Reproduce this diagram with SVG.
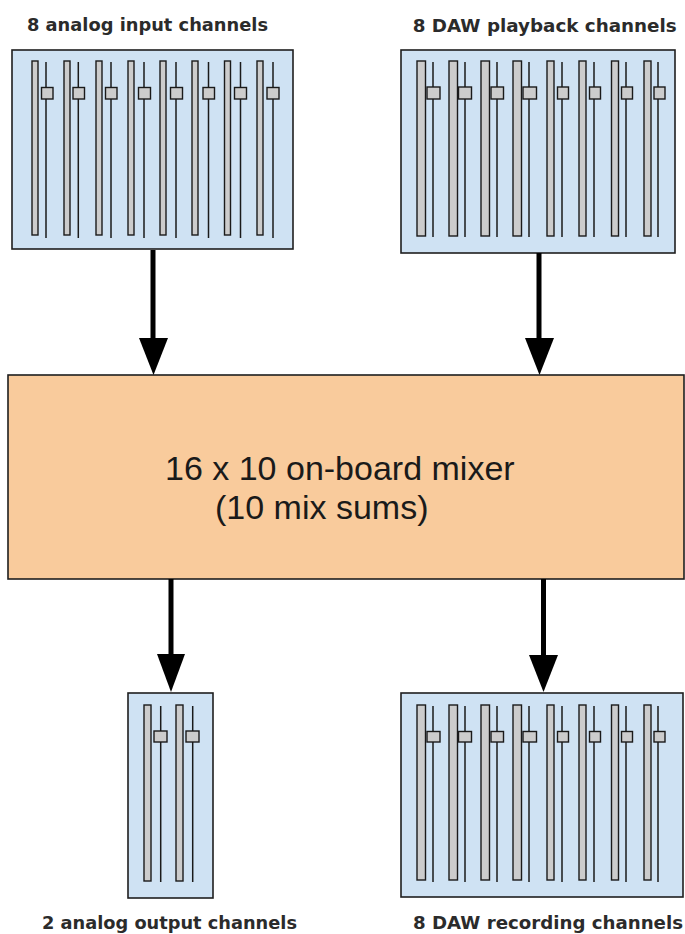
<svg xmlns="http://www.w3.org/2000/svg" width="685" height="934" viewBox="0 0 685 934">
<style>
.panel{fill:#cfe2f3;stroke:#1f1f1f;stroke-width:1.6}
.bar{fill:#cccccc;stroke:#1a1a1a;stroke-width:1.4}
.rail{stroke:#1a1a1a;stroke-width:1.5}
.knob{fill:#cccccc;stroke:#1a1a1a;stroke-width:1.4}
.lbl{font-family:"DejaVu Sans",Verdana,sans-serif;font-weight:bold;font-size:18px;fill:#2b2b2b;text-anchor:middle}
.mix{fill:#f9cb9c;stroke:#1f1f1f;stroke-width:1.6}
.mixt{font-family:"Liberation Sans",Arial,sans-serif;font-size:34px;fill:#1a1a1a}
.conn{stroke:#000;stroke-width:5}
.head{fill:#000}
</style>
<rect width="685" height="934" fill="#ffffff"/>

<g id="analog-inputs">
<text class="lbl" x="147.5" y="31" textLength="241" lengthAdjust="spacingAndGlyphs">8 analog input channels</text>
<rect class="panel" x="12" y="50" width="281" height="199"/>
<g class="bar">
<rect x="32" y="61" width="6" height="174"/><rect x="64" y="61" width="6" height="174"/><rect x="96" y="61" width="6" height="174"/><rect x="128" y="61" width="6" height="174"/>
<rect x="160" y="61" width="6" height="174"/><rect x="192" y="61" width="6" height="174"/><rect x="224.5" y="61" width="6" height="174"/><rect x="257" y="61" width="6" height="174"/>
</g>
<g class="rail">
<line x1="46" y1="62" x2="46" y2="238"/><line x1="78.3" y1="62" x2="78.3" y2="238"/><line x1="111" y1="62" x2="111" y2="238"/><line x1="144" y1="62" x2="144" y2="238"/>
<line x1="176" y1="62" x2="176" y2="238"/><line x1="208.5" y1="62" x2="208.5" y2="238"/><line x1="240.5" y1="62" x2="240.5" y2="238"/><line x1="273" y1="62" x2="273" y2="238"/>
</g>
<g class="knob">
<rect x="41.5" y="87.5" width="11.5" height="11.5"/><rect x="73" y="87.5" width="11.5" height="11.5"/><rect x="105.5" y="87.5" width="11.5" height="11.5"/><rect x="138.5" y="87.5" width="12" height="11.5"/>
<rect x="170.5" y="87.5" width="12" height="11.5"/><rect x="203" y="87.5" width="11.5" height="11.5"/><rect x="234.5" y="87.5" width="12" height="11.5"/><rect x="267" y="87.5" width="12" height="11.5"/>
</g>
</g>

<g id="daw-playback">
<text class="lbl" x="544.7" y="31.5" textLength="264" lengthAdjust="spacingAndGlyphs">8 DAW playback channels</text>
<rect class="panel" x="401" y="50" width="274" height="203"/>
<g class="bar">
<rect x="417" y="61" width="8.5" height="175"/><rect x="449" y="61" width="8.5" height="175"/><rect x="481" y="61" width="8.5" height="175"/><rect x="513" y="61" width="8.5" height="175"/>
<rect x="547" y="61" width="7" height="175"/><rect x="579" y="61" width="7" height="175"/><rect x="611.5" y="61" width="7" height="175"/><rect x="644" y="61" width="7" height="175"/>
</g>
<g class="rail">
<line x1="433" y1="62" x2="433" y2="237"/><line x1="465" y1="62" x2="465" y2="237"/><line x1="497" y1="62" x2="497" y2="237"/><line x1="529" y1="62" x2="529" y2="237"/>
<line x1="562" y1="62" x2="562" y2="237"/><line x1="594" y1="62" x2="594" y2="237"/><line x1="626" y1="62" x2="626" y2="237"/><line x1="658" y1="62" x2="658" y2="237"/>
</g>
<g class="knob">
<rect x="427" y="87" width="13" height="12"/><rect x="458.5" y="87" width="13" height="12"/><rect x="491" y="87" width="12.5" height="12"/><rect x="523" y="87" width="13.5" height="12"/>
<rect x="557.5" y="87" width="11" height="12"/><rect x="589.5" y="87" width="11" height="12"/><rect x="621.5" y="87" width="11" height="12"/><rect x="654" y="87" width="11" height="12"/>
</g>
</g>

<g id="mixer">
<rect class="mix" x="8" y="375" width="676" height="204"/>
<text class="mixt" x="165" y="480">16 x 10 on-board mixer</text>
<text class="mixt" x="215" y="519">(10 mix sums)</text>
</g>

<g id="analog-outputs">
<rect class="panel" x="128" y="693" width="85" height="205"/>
<g class="bar">
<rect x="144" y="705" width="7" height="176"/><rect x="176" y="705" width="7" height="176"/>
</g>
<g class="rail">
<line x1="160.7" y1="706" x2="160.7" y2="882"/><line x1="192.7" y1="706" x2="192.7" y2="882"/>
</g>
<g class="knob">
<rect x="154" y="731" width="13" height="11"/><rect x="186" y="731" width="13" height="11"/>
</g>
<text class="lbl" x="169.5" y="929" textLength="255" lengthAdjust="spacingAndGlyphs">2 analog output channels</text>
</g>

<g id="daw-recording">
<rect class="panel" x="401" y="693" width="282" height="204"/>
<g class="bar">
<rect x="417" y="705" width="8.5" height="175"/><rect x="449" y="705" width="8.5" height="175"/><rect x="481" y="705" width="8.5" height="175"/><rect x="513" y="705" width="8.5" height="175"/>
<rect x="547" y="705" width="7" height="175"/><rect x="579" y="705" width="7" height="175"/><rect x="611.5" y="705" width="7" height="175"/><rect x="644" y="705" width="7" height="175"/>
</g>
<g class="rail">
<line x1="433" y1="706" x2="433" y2="882"/><line x1="465" y1="706" x2="465" y2="882"/><line x1="497" y1="706" x2="497" y2="882"/><line x1="529" y1="706" x2="529" y2="882"/>
<line x1="562" y1="706" x2="562" y2="882"/><line x1="594" y1="706" x2="594" y2="882"/><line x1="626" y1="706" x2="626" y2="882"/><line x1="658" y1="706" x2="658" y2="882"/>
</g>
<g class="knob">
<rect x="427" y="731.5" width="13" height="10.5"/><rect x="458.5" y="731.5" width="13" height="10.5"/><rect x="491" y="731.5" width="12.5" height="10.5"/><rect x="523" y="731.5" width="13.5" height="10.5"/>
<rect x="557.5" y="731.5" width="11" height="10.5"/><rect x="589.5" y="731.5" width="11" height="10.5"/><rect x="621.5" y="731.5" width="11" height="10.5"/><rect x="654" y="731.5" width="11" height="10.5"/>
</g>
<text class="lbl" x="548" y="929" textLength="270" lengthAdjust="spacingAndGlyphs">8 DAW recording channels</text>
</g>

<g id="connectors">
<line class="conn" x1="153" y1="250" x2="153" y2="342"/>
<polygon class="head" points="139,338 168,338 153.5,375"/>
<line class="conn" x1="539" y1="253" x2="539" y2="342"/>
<polygon class="head" points="525,338 554,338 539.5,375"/>
<line class="conn" x1="171" y1="579" x2="171" y2="658"/>
<polygon class="head" points="157,654 185,654 171,692"/>
<line class="conn" x1="543.5" y1="579" x2="543.5" y2="658"/>
<polygon class="head" points="529,655 558,655 543.5,692"/>
</g>
</svg>
